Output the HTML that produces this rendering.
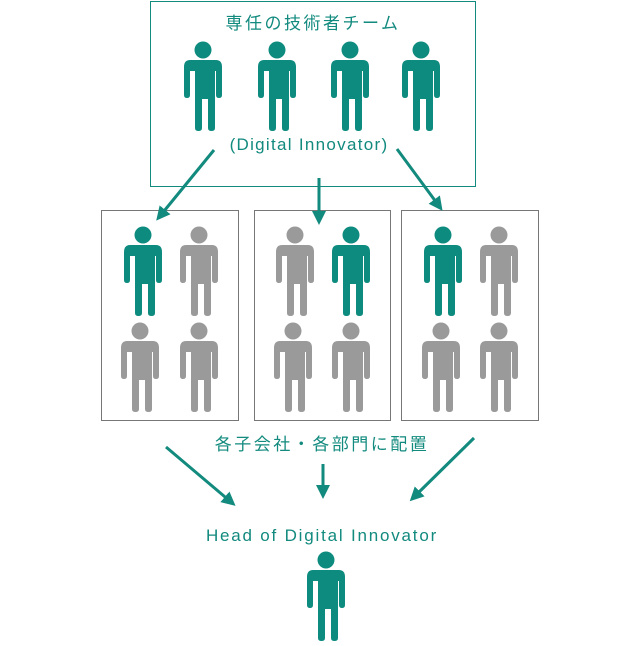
<!DOCTYPE html>
<html><head><meta charset="utf-8"><style>
html,body{margin:0;padding:0;background:#fff;}
body{width:640px;height:641px;overflow:hidden;position:relative;font-family:"Liberation Sans","Noto Sans CJK JP",sans-serif;}
</style></head><body>
<svg width="640" height="641" viewBox="0 0 640 641" xmlns="http://www.w3.org/2000/svg">
<defs>
<g id="p">
<circle cx="19" cy="9" r="8.5"/>
<path d="M6,19 H32 Q38,19 38,26 V54 Q38,57 35,57 Q32,57 32,54 V30 H31 V87 Q31,90 27.5,90 Q24,90 24,87 V58 H20 V58 H18 V87 Q18,90 14.5,90 Q11,90 11,87 V30 H6 V54 Q6,57 3,57 Q0,57 0,54 V26 Q0,19 6,19 Z"/>
</g>
<marker id="a" markerWidth="16" markerHeight="16" refX="8" refY="7" orient="auto" markerUnits="userSpaceOnUse">
<path d="M0,0 L14,7 L0,14 Z" fill="#128a7e"/>
</marker>
</defs>
<rect x="150.5" y="1.5" width="325" height="185" fill="none" stroke="#128a7e" stroke-width="1"/>
<text x="313" y="29" text-anchor="middle" font-size="17" fill="#128a7e" letter-spacing="2.5">専任の技術者チーム</text>
<g fill="#0e8b7f">
<use href="#p" x="184" y="41"/><use href="#p" x="258" y="41"/><use href="#p" x="331" y="41"/><use href="#p" x="402" y="41"/>
</g>
<text x="309" y="150" text-anchor="middle" font-size="17" fill="#128a7e" letter-spacing="1.3">(Digital Innovator)</text>
<rect x="101.5" y="210.5" width="137" height="210" fill="none" stroke="#777"/>
<rect x="254.5" y="210.5" width="136" height="210" fill="none" stroke="#777"/>
<rect x="401.5" y="210.5" width="137" height="210" fill="none" stroke="#777"/>
<g fill="#0e8b7f">
<use href="#p" x="124" y="226"/><use href="#p" x="332" y="226"/><use href="#p" x="424" y="226"/>
</g>
<g fill="#9a9a9a">
<use href="#p" x="180" y="226"/><use href="#p" x="276" y="226"/><use href="#p" x="480" y="226"/>
<use href="#p" x="121" y="322"/><use href="#p" x="180" y="322"/>
<use href="#p" x="274" y="322"/><use href="#p" x="332" y="322"/>
<use href="#p" x="422" y="322"/><use href="#p" x="480" y="322"/>
</g>
<g stroke="#128a7e" stroke-width="3" marker-end="url(#a)">
<line x1="214" y1="150" x2="160" y2="216"/>
<line x1="319" y1="178" x2="319" y2="219"/>
<line x1="397" y1="149" x2="439" y2="206"/>
<line x1="166" y1="447" x2="231" y2="502"/>
<line x1="323" y1="464" x2="323" y2="493"/>
<line x1="474" y1="438" x2="414" y2="497"/>
</g>
<text x="322" y="450" text-anchor="middle" font-size="17" fill="#128a7e" letter-spacing="2.5">各子会社・各部門に配置</text>
<text x="322" y="541" text-anchor="middle" font-size="17" fill="#128a7e" letter-spacing="1.8">Head of Digital Innovator</text>
<g fill="#0e8b7f"><use href="#p" x="307" y="551"/></g>
</svg>
</body></html>
